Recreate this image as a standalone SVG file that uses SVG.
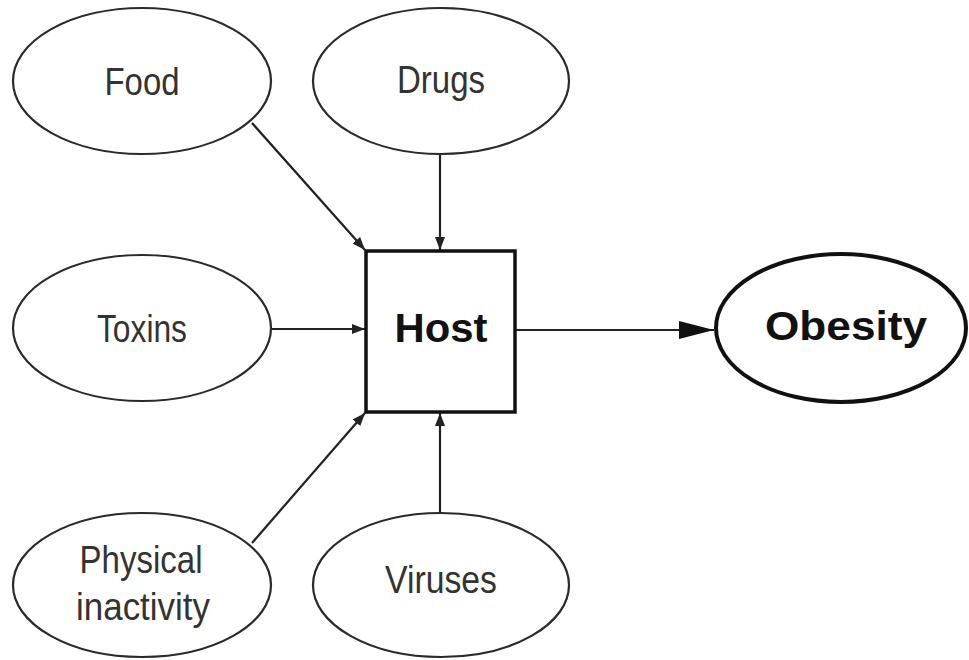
<svg xmlns="http://www.w3.org/2000/svg" width="969" height="660" viewBox="0 0 969 660">
  <style>
    .oval { fill: #ffffff; stroke: #2a2a2a; stroke-width: 2.2; }
    .label { font-family: "Liberation Sans", Arial, sans-serif; font-size: 38px; fill: #333333; text-anchor: middle; }
    .bold { font-family: "Liberation Sans", Arial, sans-serif; font-size: 41px; font-weight: bold; fill: #111111; text-anchor: middle; }
    .wire { stroke: #222222; stroke-width: 2.2; fill: none; }
  </style>
  <defs>
    <marker id="tip" markerUnits="userSpaceOnUse" markerWidth="14" markerHeight="10" refX="13" refY="5" orient="auto">
      <path d="M0,0 L13,5 L0,10 z" fill="#222222"/>
    </marker>
    <marker id="tipBig" markerUnits="userSpaceOnUse" markerWidth="36" markerHeight="22" refX="35" refY="11" orient="auto">
      <path d="M0,2 L35,11 L0,20 z" fill="#111111"/>
    </marker>
  </defs>
  <rect width="969" height="660" fill="#ffffff"/>

  <!-- connectors -->
  <g id="connectors">
    <line class="wire" x1="252" y1="123" x2="365" y2="250" marker-end="url(#tip)"/>
    <line class="wire" x1="440" y1="154" x2="440" y2="250" marker-end="url(#tip)"/>
    <line class="wire" x1="271" y1="329" x2="365" y2="329" marker-end="url(#tip)"/>
    <line class="wire" x1="252" y1="543" x2="365" y2="413" marker-end="url(#tip)"/>
    <line class="wire" x1="440" y1="512" x2="440" y2="413" marker-end="url(#tip)"/>
    <line class="wire" x1="516" y1="330" x2="714" y2="330" stroke-width="3" marker-end="url(#tipBig)"/>
  </g>

  <g id="food">
    <ellipse class="oval" cx="142" cy="81" rx="129" ry="73"/>
    <text class="label" x="142" y="95" textLength="75" lengthAdjust="spacingAndGlyphs">Food</text>
  </g>
  <g id="drugs">
    <ellipse class="oval" cx="441" cy="81" rx="128" ry="73"/>
    <text class="label" x="441" y="93" textLength="88" lengthAdjust="spacingAndGlyphs">Drugs</text>
  </g>
  <g id="toxins">
    <ellipse class="oval" cx="142" cy="328" rx="129" ry="73"/>
    <text class="label" x="142" y="342" textLength="90" lengthAdjust="spacingAndGlyphs">Toxins</text>
  </g>
  <g id="host">
    <rect x="366" y="251" width="149" height="161" fill="#ffffff" stroke="#111111" stroke-width="3.5"/>
    <text class="bold" x="441" y="342" textLength="93" lengthAdjust="spacingAndGlyphs">Host</text>
  </g>
  <g id="obesity">
    <ellipse cx="841" cy="328" rx="125" ry="74" fill="#ffffff" stroke="#111111" stroke-width="4"/>
    <text class="bold" x="846" y="340" textLength="162" lengthAdjust="spacingAndGlyphs">Obesity</text>
  </g>
  <g id="physical-inactivity">
    <ellipse class="oval" cx="142" cy="585" rx="129" ry="72"/>
    <text class="label" x="141" y="573" textLength="123" lengthAdjust="spacingAndGlyphs">Physical</text>
    <text class="label" x="143" y="620" textLength="134" lengthAdjust="spacingAndGlyphs">inactivity</text>
  </g>
  <g id="viruses">
    <ellipse class="oval" cx="441" cy="585" rx="128" ry="72"/>
    <text class="label" x="441" y="593" textLength="112" lengthAdjust="spacingAndGlyphs">Viruses</text>
  </g>
</svg>
